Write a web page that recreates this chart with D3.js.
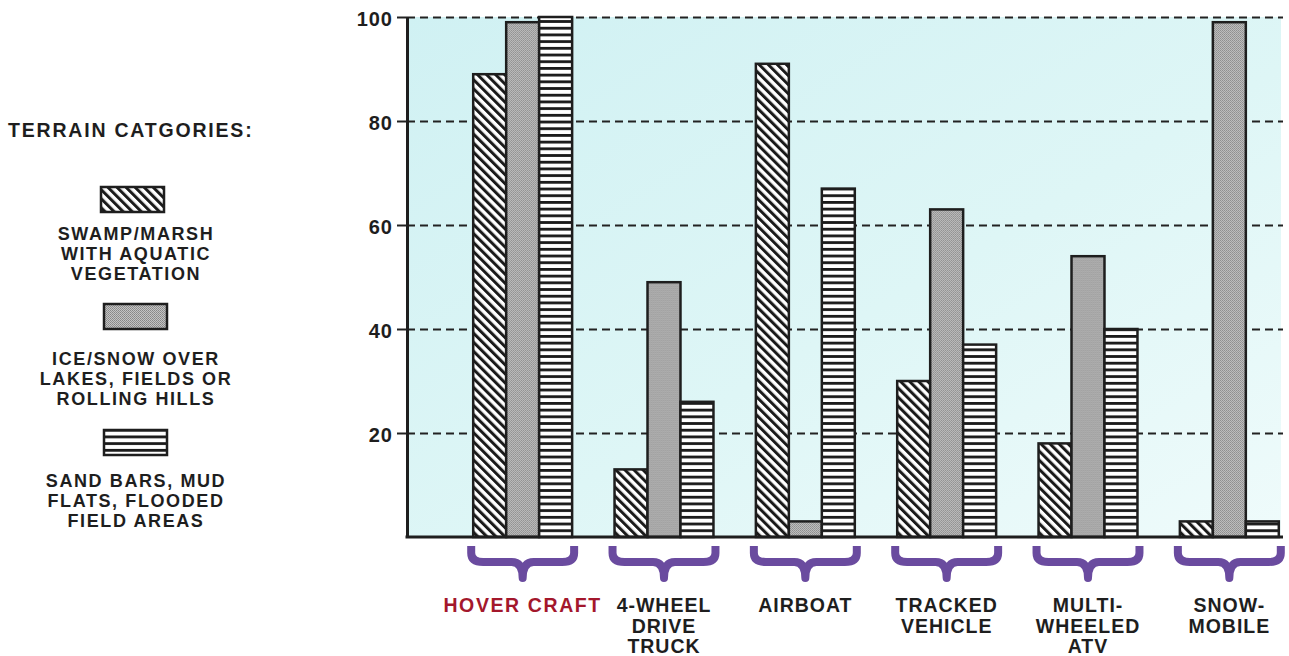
<!DOCTYPE html>
<html>
<head>
<meta charset="utf-8">
<script src="https://cdn.jsdelivr.net/npm/d3@7/dist/d3.min.js"></script>
<style>
  html, body { margin: 0; padding: 0; background: #fff; }
  svg { display: block; }
  text { font-family: "Liberation Sans", Arial, sans-serif; font-weight: bold; fill: #1e1e1e; }
</style>
</head>
<body>
<svg id="chart" width="1289" height="656"></svg>
<script>
// ---------- DATA ----------
const categories = ["HOVER CRAFT", "4-WHEEL\nDRIVE\nTRUCK", "AIRBOAT", "TRACKED\nVEHICLE", "MULTI-\nWHEELED\nATV", "SNOW-\nMOBILE"];
const seriesNames = ["SWAMP/MARSH\nWITH AQUATIC\nVEGETATION", "ICE/SNOW OVER\nLAKES, FIELDS OR\nROLLING HILLS", "SAND BARS, MUD\nFLATS, FLOODED\nFIELD AREAS"];
const swampValues = [89, 13, 91, 30, 18, 3];
const iceValues   = [99, 49, 3, 63, 54, 99];
const sandValues  = [100, 26, 67, 37, 40, 3];
const yTicks = [20, 40, 60, 80, 100];
const legendTitle = "TERRAIN CATGORIES:";

// ---------- SETUP ----------
const svg = d3.select("#chart");
const plot = { left: 407, right: 1281, top: 17, bottom: 537 };

const y = d3.scaleLinear().domain([0, 100]).range([plot.bottom, plot.top]);
const x = d3.scaleBand().domain(categories).range([452, 1300]).paddingInner(0.3).paddingOuter(0.15);
const seriesKeys = ["swamp", "ice", "sand"];
const xs = d3.scaleBand().domain(seriesKeys).range([0, x.bandwidth()]).padding(0);

const defs = svg.append("defs");
// background gradient
const grad = defs.append("linearGradient").attr("id", "bg").attr("x1", "0").attr("y1", "0").attr("x2", "1").attr("y2", "1");
grad.append("stop").attr("offset", "0%").attr("stop-color", "#d0f1f3");
grad.append("stop").attr("offset", "55%").attr("stop-color", "#def6f6");
grad.append("stop").attr("offset", "100%").attr("stop-color", "#effbfb");

// diagonal stripes "\"
const pSwamp = defs.append("pattern").attr("id", "p-swamp").attr("patternUnits", "userSpaceOnUse")
  .attr("width", 6.4).attr("height", 6.4).attr("patternTransform", "rotate(-45)");
pSwamp.append("rect").attr("width", 6.4).attr("height", 6.4).attr("fill", "#fff");
pSwamp.append("rect").attr("width", 3.0).attr("height", 6.4).attr("fill", "#1a1a1a");

// stippled gray
const pIce = defs.append("pattern").attr("id", "p-ice").attr("patternUnits", "userSpaceOnUse")
  .attr("width", 2).attr("height", 2);
pIce.append("rect").attr("width", 2).attr("height", 2).attr("fill", "#c4c4c4");
pIce.append("rect").attr("width", 1).attr("height", 1).attr("fill", "#878787");
pIce.append("rect").attr("x", 1).attr("y", 1).attr("width", 1).attr("height", 1).attr("fill", "#929292");

// horizontal stripes
const pSand = defs.append("pattern").attr("id", "p-sand").attr("patternUnits", "userSpaceOnUse")
  .attr("width", 10).attr("height", 6.7);
pSand.append("rect").attr("width", 10).attr("height", 6.7).attr("fill", "#fff");
pSand.append("rect").attr("width", 10).attr("height", 2.8).attr("fill", "#1a1a1a");

const fills = { swamp: "url(#p-swamp)", ice: "url(#p-ice)", sand: "url(#p-sand)" };

// ---------- PLOT BACKGROUND ----------
svg.append("rect")
  .attr("x", plot.left).attr("y", plot.top)
  .attr("width", plot.right - plot.left).attr("height", plot.bottom - plot.top)
  .attr("fill", "url(#bg)");

// gridlines (dashed, via axis)
const grid = svg.append("g").attr("transform", `translate(${plot.left},0)`)
  .call(d3.axisLeft(y).tickValues(yTicks).tickSize(-(plot.right - plot.left) - 2).tickFormat("").tickSizeOuter(0));
grid.select(".domain").remove();
grid.selectAll(".tick line").attr("stroke", "#222").attr("stroke-width", 2).attr("stroke-dasharray", "8,5");

// ---------- BARS ----------
const rows = categories.map((c, i) => ({ cat: c, swamp: swampValues[i], ice: iceValues[i], sand: sandValues[i] }));
const groups = svg.append("g").selectAll("g").data(rows).join("g")
  .attr("transform", d => `translate(${x(d.cat)},0)`);
groups.selectAll("rect").data(d => seriesKeys.map(k => ({ key: k, value: d[k] }))).join("rect")
  .attr("x", d => xs(d.key))
  .attr("y", d => y(d.value))
  .attr("width", xs.bandwidth())
  .attr("height", d => y(0) - y(d.value))
  .attr("fill", d => fills[d.key])
  .attr("stroke", "#1e1e1e")
  .attr("stroke-width", 2.5);

// ---------- Y AXIS ----------
const yAxis = svg.append("g").attr("transform", `translate(${plot.left},0)`)
  .call(d3.axisLeft(y).tickValues(yTicks).tickSize(10).tickPadding(4).tickSizeOuter(0));
yAxis.select(".domain").attr("stroke", "#1e1e1e").attr("stroke-width", 3);
yAxis.selectAll(".tick line").attr("stroke", "#222").attr("stroke-width", 2);
yAxis.selectAll(".tick text")
  .attr("dy", "0.4em")
  .style("font-family", "'Liberation Sans', Arial, sans-serif")
  .style("font-weight", "bold")
  .style("font-size", "20px")
  .style("letter-spacing", "1px")
  .attr("fill", "#1e1e1e");

// baseline
svg.append("line")
  .attr("x1", plot.left - 1.5).attr("x2", plot.right + 2)
  .attr("y1", y(0)).attr("y2", y(0))
  .attr("stroke", "#1e1e1e").attr("stroke-width", 3);

// ---------- BRACES ----------
const braceTop = 546, braceMid = 562, braceTip = 578;
svg.append("g").selectAll("path").data(categories).join("path")
  .attr("d", c => {
    const x0 = x(c) - 2, x1 = x(c) + x.bandwidth() + 2, cx = (x0 + x1) / 2;
    return `M${x0},${braceTop} L${x0},${braceMid - 9} Q${x0},${braceMid} ${x0 + 12},${braceMid}
            L${cx - 11},${braceMid} Q${cx},${braceMid} ${cx},${braceTip}
            Q${cx},${braceMid} ${cx + 11},${braceMid} L${x1 - 12},${braceMid}
            Q${x1},${braceMid} ${x1},${braceMid - 9} L${x1},${braceTop}`;
  })
  .attr("fill", "none")
  .attr("stroke", "#6a4b9f")
  .attr("stroke-width", 8)
  .attr("stroke-linejoin", "round");

// ---------- CATEGORY LABELS ----------
const catLabels = svg.append("g").selectAll("text").data(categories).join("text")
  .attr("x", c => x(c) + x.bandwidth() / 2)
  .attr("y", 612)
  .attr("text-anchor", "middle")
  .style("font-size", "19.5px")
  .style("letter-spacing", (c, i) => i === 0 ? "1.6px" : "1px")
  .style("fill", (c, i) => i === 0 ? "#a3172c" : "#1e1e1e");
catLabels.selectAll("tspan").data(c => c.split("\n")).join("tspan")
  .attr("x", function () { return d3.select(this.parentNode).attr("x"); })
  .attr("dy", (d, i) => i === 0 ? 0 : 20.5)
  .text(d => d);

// ---------- LEGEND ----------
svg.append("text")
  .attr("x", 8).attr("y", 137)
  .style("font-size", "19.5px")
  .style("letter-spacing", "1.8px")
  .text(legendTitle);

const legendSwatch = [
  { key: "swamp", x: 101, y: 187 },
  { key: "ice", x: 104, y: 304 },
  { key: "sand", x: 104, y: 430 }
];
const legendTextY = [240, 365, 487];
const legendTextX = 136;

legendSwatch.forEach((s, i) => {
  svg.append("rect")
    .attr("x", s.x).attr("y", s.y).attr("width", 63).attr("height", 25)
    .attr("fill", fills[s.key]).attr("stroke", "#1e1e1e").attr("stroke-width", 2.5);
  const t = svg.append("text")
    .attr("x", legendTextX).attr("y", legendTextY[i])
    .attr("text-anchor", "middle")
    .style("font-size", "18px")
    .style("letter-spacing", "1.6px");
  t.selectAll("tspan").data(seriesNames[i].split("\n")).join("tspan")
    .attr("x", legendTextX)
    .attr("dy", (d, j) => j === 0 ? 0 : 20)
    .text(d => d);
});
</script>
</body>
</html>
